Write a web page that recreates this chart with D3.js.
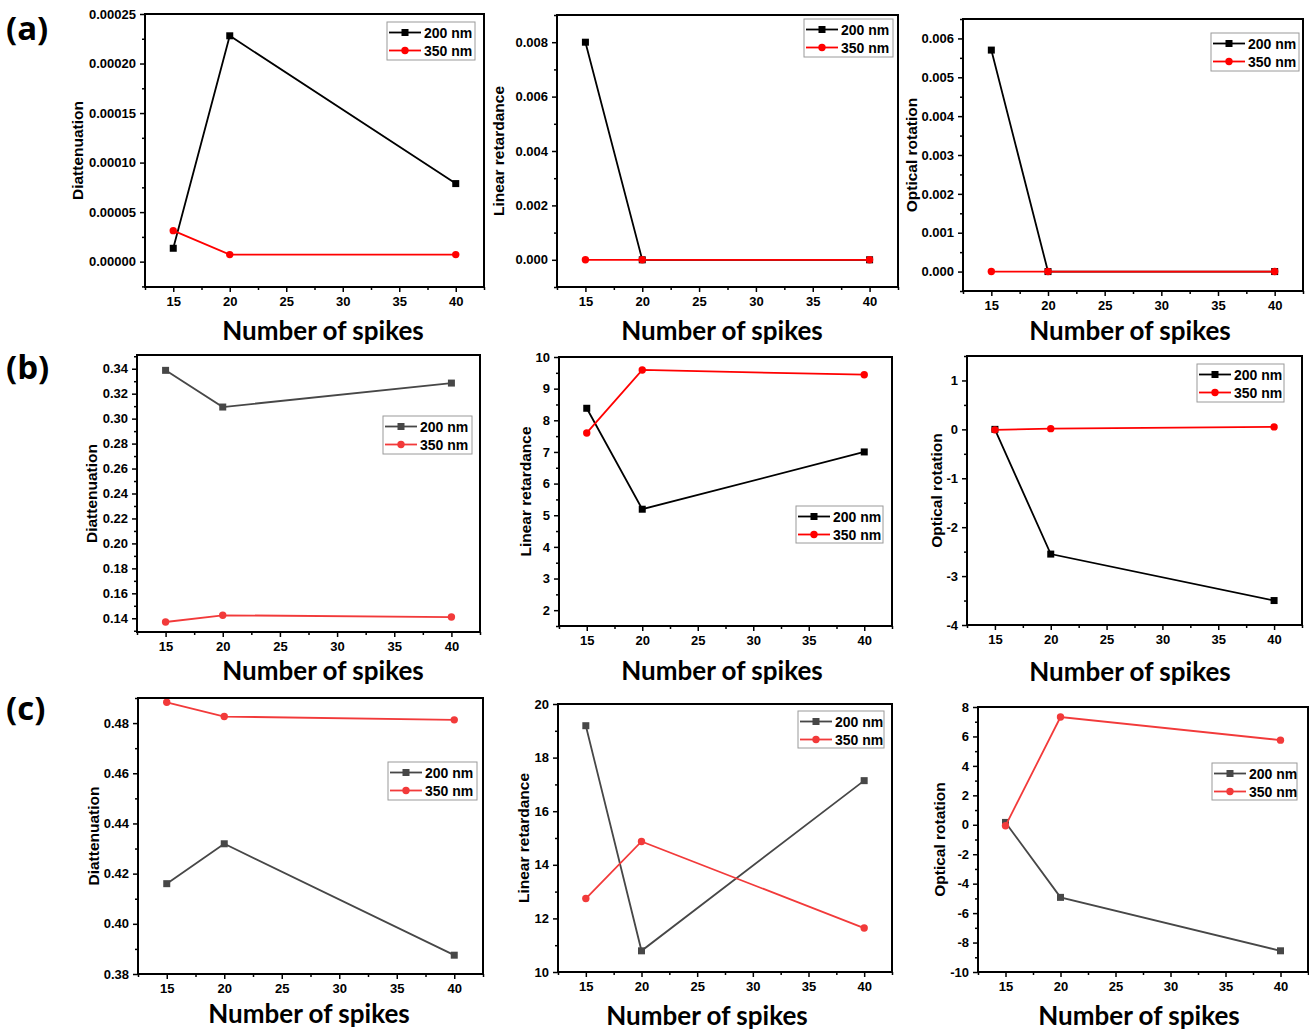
<!DOCTYPE html>
<html lang="en">
<head>
<meta charset="UTF-8">
<title>spikes</title>
<style>
  body { margin: 0; background: #fff; }
  svg text { font-family: "Liberation Sans", Arial, sans-serif; font-weight: bold; }
  .frame { fill: none; stroke: #000; stroke-width: 2px; }
  .axis path { display: none; }
  .axis line { stroke: #000; stroke-width: 1.5px; }
  .axis text { font-size: 13px; fill: #000; }
  .ytitle { font-size: 15.5px; }
  .xtitle { font-family: Lato, "Open Sans", sans-serif !important; font-size: 26px; }
  .plabel { font-family: "Open Sans", sans-serif !important; font-size: 33px; }
  .legend .box { fill: #fff; stroke: #9a9a9a; stroke-width: 1px; }
  .legend text { font-size: 14px; }
</style>
</head>
<body>
<svg id="chart" width="1309" height="1035"></svg>

<script src="https://cdn.jsdelivr.net/npm/d3@7"></script>
<script>
"use strict";

// shared
var spikes = [15, 20, 40];
var seriesNames = ["200 nm", "350 nm"];
var xTicks = [15, 20, 25, 30, 35, 40];

// row (a)
var a1_200 = [0.0000135, 0.000228, 0.0000788];
var a1_350 = [0.0000313, 0.0000071, 0.0000071];
var a1Ticks = [0, 0.00005, 0.0001, 0.00015, 0.0002, 0.00025];
var a2_200 = [0.008, 0, 0];
var a2_350 = [0, 0, 0];
var a2Ticks = [0, 0.002, 0.004, 0.006, 0.008];
var a3_200 = [0.0057, 0, 0];
var a3_350 = [0, 0, 0];
var a3Ticks = [0, 0.001, 0.002, 0.003, 0.004, 0.005, 0.006];

// row (b)
var b1_200 = [0.3387, 0.3093, 0.3285];
var b1_350 = [0.137, 0.1424, 0.141];
var b1Ticks = [0.14, 0.16, 0.18, 0.20, 0.22, 0.24, 0.26, 0.28, 0.30, 0.32, 0.34];
var b2_200 = [8.38, 5.19, 7.0];
var b2_350 = [7.6, 9.59, 9.44];
var b2Ticks = [2, 3, 4, 5, 6, 7, 8, 9, 10];
var b3_200 = [0.0, -2.55, -3.5];
var b3_350 = [-0.01, 0.015, 0.05];
var b3Ticks = [-4, -3, -2, -1, 0, 1];

// row (c)
var c1_200 = [0.416, 0.4319, 0.3875];
var c1_350 = [0.4883, 0.4826, 0.4813];
var c1Ticks = [0.38, 0.40, 0.42, 0.44, 0.46, 0.48];
var c2_200 = [19.19, 10.79, 17.14];
var c2_350 = [12.74, 14.87, 11.64];
var c2Ticks = [10, 12, 14, 16, 18, 20];
var c3_200 = [0.16, -4.93, -8.56];
var c3_350 = [-0.07, 7.32, 5.75];
var c3Ticks = [-10, -8, -6, -4, -2, 0, 2, 4, 6, 8];

var black = ["#000000", "#ff0000"];
var gray = ["#474747", "#f23a3a"];

var panels = [
  {s: [a1_200, a1_350], ticks: a1Ticks, fmt: ".5f", yd: [-0.0000256, 0.00025], title: "Diattenuation",
   f: [145, 14, 484, 287], col: black, lg: [387, 22, 88, 38], yt: 78, xt: [323, 340]},
  {s: [a2_200, a2_350], ticks: a2Ticks, fmt: ".3f", yd: [-0.001, 0.009], title: "Linear retardance",
   f: [557, 15, 898, 287], col: black, lg: [804, 19, 89, 38], yt: 499, xt: [722, 340]},
  {s: [a3_200, a3_350], ticks: a3Ticks, fmt: ".3f", yd: [-0.0005, 0.0065], title: "Optical rotation",
   f: [963, 19, 1303, 291], col: black, lg: [1211, 33, 88, 38], yt: 912, xt: [1130, 340]},
  {s: [b1_200, b1_350], ticks: b1Ticks, fmt: ".2f", yd: [0.129, 0.351], title: "Diattenuation",
   f: [137, 355, 480, 632], col: gray, lg: [383, 416, 89, 38], yt: 92, xt: [323, 680]},
  {s: [b2_200, b2_350], ticks: b2Ticks, fmt: "d", yd: [1.5, 10], title: "Linear retardance",
   f: [559, 357, 892, 626], col: black, lg: [796, 506, 87, 37], yt: 526, xt: [722, 680]},
  {s: [b3_200, b3_350], ticks: b3Ticks, fmt: "d", yd: [-4, 1.5], title: "Optical rotation",
   f: [967, 356, 1302, 625], col: black, lg: [1197, 364, 87, 38], yt: 937, xt: [1130, 681]},
  {s: [c1_200, c1_350], ticks: c1Ticks, fmt: ".2f", yd: [0.38, 0.49], title: "Diattenuation",
   f: [138, 698, 483, 974], col: gray, lg: [388, 762, 89, 38], yt: 94, xt: [309, 1023]},
  {s: [c2_200, c2_350], ticks: c2Ticks, fmt: "d", yd: [10, 20], title: "Linear retardance",
   f: [558, 704, 892, 972], col: gray, lg: [798, 711, 86, 37], yt: 524, xt: [707, 1025]},
  {s: [c3_200, c3_350], ticks: c3Ticks, fmt: "d", yd: [-10, 8], title: "Optical rotation",
   f: [978, 707, 1308, 972], col: gray, lg: [1212, 763, 85, 37], yt: 940, xt: [1139, 1025]}
];

// plain hyphen for negatives, like the original
var locale = d3.formatLocale({decimal: ".", thousands: ",", grouping: [3], currency: ["", ""], minus: "-"});

var svg = d3.select("#chart");

// minor ticks halfway between majors, kept inside the domain
function minors(ticks, dom) {
  var step = ticks[1] - ticks[0], out = [];
  for (var i = -1; i < ticks.length; i++) {
    var v = ticks[0] + step * (i + 0.5);
    if (v >= dom[0] - 1e-12 && v <= dom[1] + 1e-12) out.push(v);
  }
  return out;
}

function marker(g, shape, x, y, color) {
  if (shape === 0) {
    g.append("rect").attr("x", x - 3.5).attr("y", y - 3.5)
      .attr("width", 7).attr("height", 7).attr("fill", color);
  } else {
    g.append("circle").attr("cx", x).attr("cy", y).attr("r", 3.7).attr("fill", color);
  }
}

panels.forEach(function(p) {
  var L = p.f[0], T = p.f[1], R = p.f[2], B = p.f[3];
  var x = d3.scaleLinear().domain([12.5, 42.5]).range([L, R]);
  var y = d3.scaleLinear().domain(p.yd).range([B, T]);
  var g = svg.append("g");

  // axes
  g.append("g").attr("class", "axis").attr("transform", "translate(0," + B + ")")
    .call(d3.axisBottom(x).tickValues(xTicks).tickSize(5).tickPadding(5).tickFormat(d3.format("d")));
  g.append("g").attr("class", "axis").attr("transform", "translate(0," + B + ")")
    .call(d3.axisBottom(x).tickValues(minors(xTicks, [12.5, 42.5])).tickSize(3).tickFormat(""));
  g.append("g").attr("class", "axis").attr("transform", "translate(" + L + ",0)")
    .call(d3.axisLeft(y).tickValues(p.ticks).tickSize(5).tickPadding(4).tickFormat(locale.format(p.fmt)));
  g.append("g").attr("class", "axis").attr("transform", "translate(" + L + ",0)")
    .call(d3.axisLeft(y).tickValues(minors(p.ticks, p.yd)).tickSize(3).tickFormat(""));

  // series
  var line = d3.line().x(function(d, i) { return x(spikes[i]); }).y(function(d) { return y(d); });
  p.s.forEach(function(vals, k) {
    g.append("path").datum(vals).attr("d", line)
      .attr("fill", "none").attr("stroke", p.col[k]).attr("stroke-width", 1.8);
    vals.forEach(function(v, i) { marker(g, k, x(spikes[i]), y(v), p.col[k]); });
  });

  g.append("rect").attr("class", "frame")
    .attr("x", L).attr("y", T).attr("width", R - L).attr("height", B - T);

  // titles
  g.append("text").attr("class", "ytitle").attr("text-anchor", "middle")
    .attr("transform", "translate(" + (p.yt + 5) + "," + ((T + B) / 2) + ") rotate(-90)")
    .text(p.title);
  g.append("text").attr("class", "xtitle").attr("text-anchor", "middle")
    .attr("x", p.xt[0]).attr("y", p.xt[1]).text("Number of spikes");

  // legend
  var lg = g.append("g").attr("class", "legend");
  lg.append("rect").attr("class", "box")
    .attr("x", p.lg[0]).attr("y", p.lg[1]).attr("width", p.lg[2]).attr("height", p.lg[3]);
  seriesNames.forEach(function(name, k) {
    var ly = p.lg[1] + 10.5 + k * 18;
    lg.append("line").attr("x1", p.lg[0] + 2).attr("x2", p.lg[0] + 34)
      .attr("y1", ly).attr("y2", ly).attr("stroke", p.col[k]).attr("stroke-width", 1.8);
    marker(lg, k, p.lg[0] + 18, ly, p.col[k]);
    lg.append("text").attr("x", p.lg[0] + 37).attr("y", ly + 5).text(name);
  });
});

// panel letters
[["(a)", 40], ["(b)", 379], ["(c)", 720]].forEach(function(d) {
  svg.append("text").attr("class", "plabel").attr("x", 6).attr("y", d[1]).text(d[0]);
});
</script>
</body>
</html>
